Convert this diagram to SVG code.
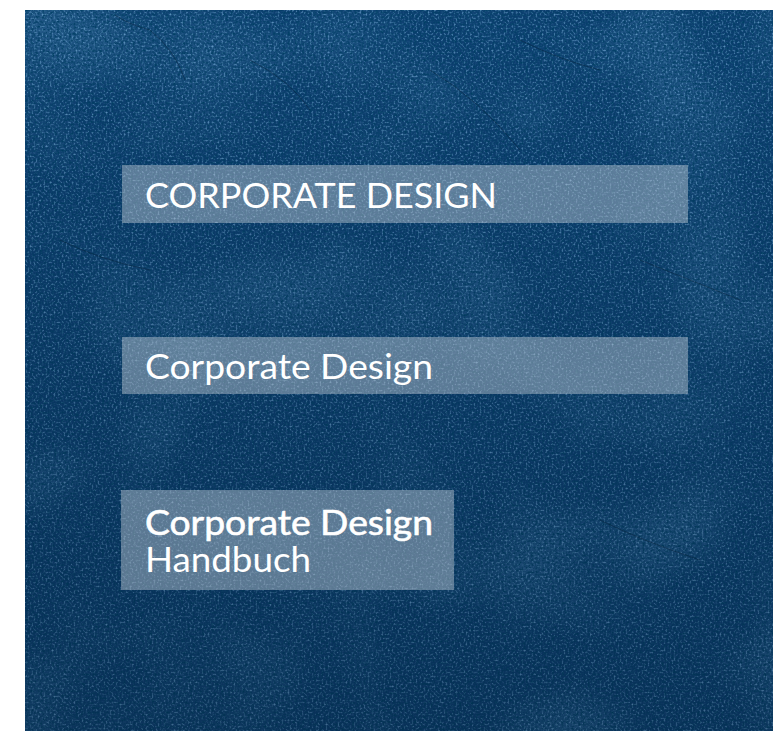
<svg xmlns="http://www.w3.org/2000/svg" width="773" height="731" viewBox="0 0 773 731">
  <style>
    .box { fill: #cfd6de; fill-opacity: 0.42; }
    .t { font-family: Lato, "Open Sans", "Liberation Sans", sans-serif; fill: #ffffff; font-size: 34px; }
    .b { stroke: #ffffff; stroke-width: 0.6px; }
  </style>
  <defs>
    <filter id="light" x="0" y="0" width="100%" height="100%">
      <feTurbulence type="fractalNoise" baseFrequency="0.5" numOctaves="3" seed="3"/>
      <feColorMatrix type="matrix" values="0 0 0 0 0.22  0 0 0 0 0.48  0 0 0 0 0.75  1.8 0 0 0 -0.85"/>
    </filter>
    <filter id="dark" x="0" y="0" width="100%" height="100%">
      <feTurbulence type="fractalNoise" baseFrequency="0.42" numOctaves="3" seed="11"/>
      <feColorMatrix type="matrix" values="0 0 0 0 0.0  0 0 0 0 0.05  0 0 0 0 0.13  2.2 0 0 0 -0.9"/>
    </filter>
    <filter id="mottle" x="0" y="0" width="100%" height="100%">
      <feTurbulence type="fractalNoise" baseFrequency="0.008" numOctaves="2" seed="5"/>
      <feColorMatrix type="matrix" values="0 0 0 0 0.12  0 0 0 0 0.36  0 0 0 0 0.6  0.6 0 0 0 -0.28"/>
    </filter>
    <linearGradient id="shade" x1="0.2" y1="0" x2="0.1" y2="1">
      <stop offset="0" stop-color="#001022" stop-opacity="0"/>
      <stop offset="1" stop-color="#001022" stop-opacity="0.3"/>
    </linearGradient>
  </defs>
  <rect x="0" y="0" width="773" height="731" fill="#ffffff"/>
  <g id="background">
    <rect x="25" y="10" width="748" height="721" fill="#0c3f70"/>
    <rect x="25" y="10" width="748" height="721" filter="url(#mottle)"/>
    <rect x="25" y="10" width="748" height="721" filter="url(#light)"/>
    <rect x="25" y="10" width="748" height="721" filter="url(#dark)"/>
    <rect x="25" y="10" width="748" height="721" fill="url(#shade)"/>
    <g fill="none" stroke="#041b33" stroke-opacity="0.4" stroke-width="1">
      <path d="M115 15 Q130 25 150 30 Q175 50 185 80"/>
      <path d="M250 60 Q290 80 310 110"/>
      <path d="M430 70 Q480 100 520 150"/>
      <path d="M520 40 Q560 60 600 70"/>
      <path d="M60 240 Q100 260 150 270"/>
      <path d="M640 260 Q690 280 740 300"/>
      <path d="M600 520 Q640 540 700 560"/>
    </g>
  </g>
  <g id="node1">
    <rect class="box" x="122" y="165" width="566" height="58"/>
    <text class="t" x="145" y="208" textLength="352" lengthAdjust="spacingAndGlyphs">CORPORATE DESIGN</text>
  </g>
  <g id="node2">
    <rect class="box" x="122" y="337" width="566" height="57"/>
    <text class="t" x="145" y="379" textLength="288" lengthAdjust="spacingAndGlyphs">Corporate Design</text>
  </g>
  <g id="node3">
    <rect class="box" x="121" y="490" width="333" height="100"/>
    <text class="t b" x="145" y="535" textLength="288" lengthAdjust="spacingAndGlyphs">Corporate Design</text>
    <text class="t" x="145" y="572" textLength="166" lengthAdjust="spacingAndGlyphs">Handbuch</text>
  </g>
</svg>
